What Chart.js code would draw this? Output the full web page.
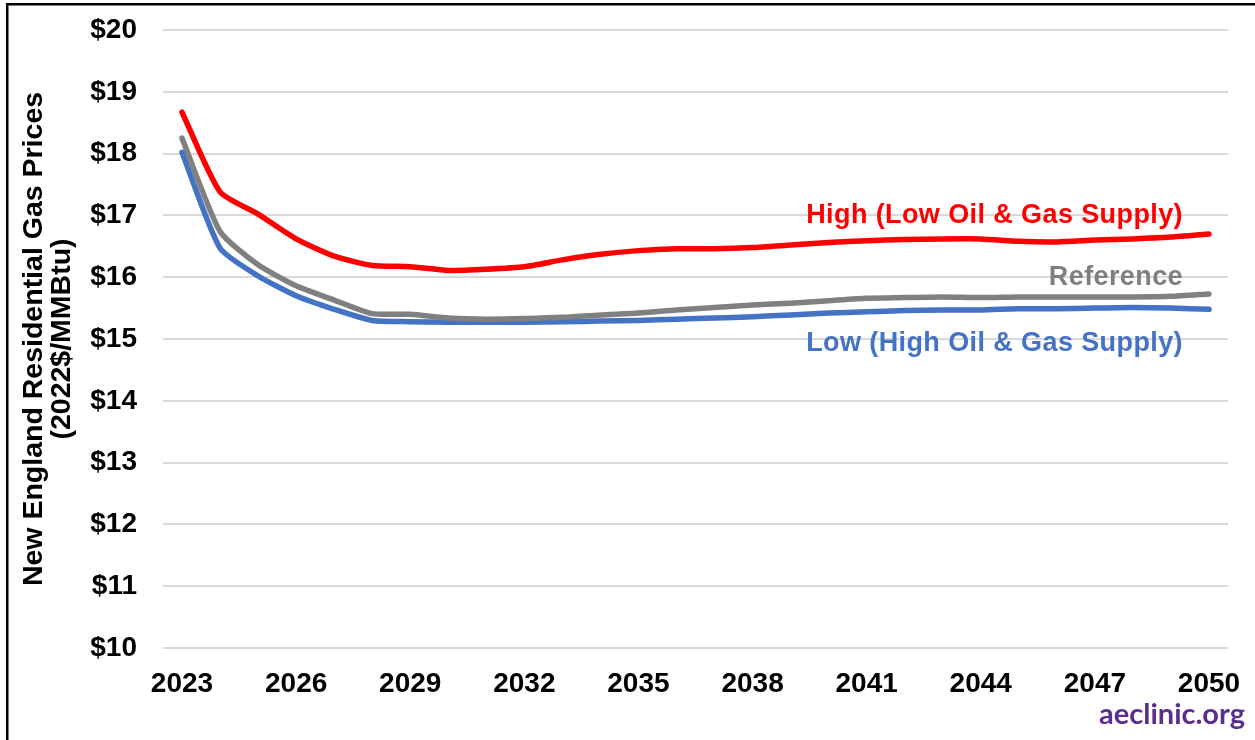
<!DOCTYPE html>
<html>
<head>
<meta charset="utf-8">
<title>New England Residential Gas Prices</title>
<script src="https://cdn.jsdelivr.net/npm/chart.js@4/dist/chart.umd.min.js"></script>
<style>
  html, body { margin: 0; padding: 0; background: #ffffff; }
  #wrap { width: 1255px; height: 740px; position: relative; }
</style>
</head>
<body>
<div id="wrap"><canvas id="chart" width="1255" height="740"></canvas></div>
<script>
// Years on the category axis
const years = [2023, 2024, 2025, 2026, 2027, 2028, 2029, 2030, 2031, 2032,
               2033, 2034, 2035, 2036, 2037, 2038, 2039, 2040, 2041, 2042,
               2043, 2044, 2045, 2046, 2047, 2048, 2049, 2050];

// Residential gas price, 2022$/MMBtu
const highPrices = [18.67, 17.38, 17.02, 16.62, 16.34, 16.19, 16.17, 16.11, 16.13, 16.17,
                    16.28, 16.37, 16.43, 16.46, 16.46, 16.48, 16.52, 16.56, 16.59, 16.61,
                    16.62, 16.62, 16.58, 16.57, 16.60, 16.62, 16.65, 16.70];
const referencePrices = [18.25, 16.74, 16.20, 15.86, 15.63, 15.41, 15.40, 15.34, 15.32, 15.33,
                         15.35, 15.39, 15.42, 15.47, 15.51, 15.55, 15.58, 15.62, 15.66, 15.67,
                         15.68, 15.67, 15.68, 15.68, 15.68, 15.68, 15.69, 15.73];
const lowPrices = [18.02, 16.47, 16.02, 15.70, 15.48, 15.30, 15.28, 15.27, 15.27, 15.27,
                   15.28, 15.29, 15.30, 15.32, 15.34, 15.36, 15.39, 15.42, 15.44, 15.46,
                   15.47, 15.47, 15.49, 15.49, 15.50, 15.51, 15.50, 15.48];

const yTicks = [10, 11, 12, 13, 14, 15, 16, 17, 18, 19, 20];
const yTitleLines = ['New England Residential Gas Prices', '(2022$/MMBtu)'];
const seriesNames = ['High (Low Oil & Gas Supply)', 'Reference', 'Low (High Oil & Gas Supply)'];
const seriesColors = ['#ff0000', '#808080', '#4472c4'];
const labelColors = ['#ff0000', '#7f7f7f', '#4472c4'];
const sourceText = 'aeclinic.org';

const FONT = '"Liberation Sans", Arial, sans-serif';

// Frame, vertical axis title, series labels and the source mark
const decorations = {
  id: 'decorations',
  beforeDraw(chart) {
    const ctx = chart.ctx;
    ctx.save();
    ctx.fillStyle = '#ffffff';
    ctx.fillRect(0, 0, chart.width, chart.height);
    ctx.restore();
  },
  afterDraw(chart) {
    const ctx = chart.ctx;
    const area = chart.chartArea;
    ctx.save();

    // frame
    ctx.strokeStyle = '#000000';
    ctx.lineWidth = 2.5;
    ctx.beginPath();
    ctx.moveTo(7.25, chart.height);
    ctx.lineTo(7.25, 4.25);
    ctx.lineTo(chart.width, 4.25);
    ctx.stroke();

    // vertical axis title
    const midY = (area.top + area.bottom) / 2;
    ctx.fillStyle = '#000000';
    ctx.font = 'bold 28.5px ' + FONT;
    ctx.textAlign = 'center';
    ctx.textBaseline = 'middle';
    ctx.translate(34, midY);
    ctx.rotate(-Math.PI / 2);
    ctx.fillText(yTitleLines[0], 0, 0);
    ctx.fillText(yTitleLines[1], 0, 28);
    ctx.setTransform(1, 0, 0, 1, 0, 0);

    // series labels, placed against the value axis
    const yScale = chart.scales.y;
    const labelRight = 1183;
    ctx.font = 'bold 27px ' + FONT;
    ctx.textAlign = 'right';
    ctx.textBaseline = 'alphabetic';
    ctx.letterSpacing = '0.4px';
    const labelValues = [16.87, 15.87, 14.80];
    labelValues.forEach((v, i) => {
      ctx.fillStyle = labelColors[i];
      ctx.fillText(seriesNames[i], labelRight, yScale.getPixelForValue(v));
    });
    ctx.letterSpacing = '0px';

    // source mark
    ctx.fillStyle = '#5c2d91';
    ctx.font = 'bold 29px Lato, "Open Sans", sans-serif';
    ctx.textAlign = 'right';
    ctx.fillText(sourceText, 1245, 724);

    ctx.restore();
  }
};

const ctx = document.getElementById('chart').getContext('2d');
new Chart(ctx, {
  type: 'line',
  data: {
    labels: years.map(String),
    datasets: [
      { label: seriesNames[0], data: highPrices, borderColor: seriesColors[0] },
      { label: seriesNames[1], data: referencePrices, borderColor: seriesColors[1] },
      { label: seriesNames[2], data: lowPrices, borderColor: seriesColors[2] }
    ].map(d => Object.assign(d, {
      borderWidth: 5.5,
      pointRadius: 0,
      pointHoverRadius: 0,
      fill: false,
      tension: 0.2,
      borderCapStyle: 'round',
      borderJoinStyle: 'round'
    }))
  },
  options: {
    responsive: false,
    devicePixelRatio: 1,
    animation: false,
    layout: { padding: { left: 0, right: 27, top: 30, bottom: 0 } },
    plugins: {
      legend: { display: false },
      tooltip: { enabled: false },
      title: { display: false }
    },
    scales: {
      x: {
        offset: true,
        grid: { display: false, drawTicks: false },
        border: { display: false },
        ticks: {
          autoSkip: false,
          maxRotation: 0,
          padding: 19,
          color: '#000000',
          font: { family: FONT, size: 28, weight: 'bold' },
          callback: (val, idx) => (idx % 3 === 0 ? years[idx] : '')
        },
        afterFit: (scale) => {
          scale.height = 92;
          scale.paddingLeft = 0;
          scale.paddingRight = 0;
        }
      },
      y: {
        min: yTicks[0],
        max: yTicks[yTicks.length - 1],
        afterBuildTicks: (scale) => { scale.ticks = yTicks.map(v => ({ value: v })); },
        grid: { color: '#d9d9d9', lineWidth: 2, drawTicks: false },
        border: { display: false },
        ticks: {
          padding: 26,
          color: '#000000',
          font: { family: FONT, size: 28, weight: 'bold' },
          callback: (v) => '$' + v
        },
        afterFit: (scale) => {
          scale.width = 163;
          scale.paddingTop = 0;
          scale.paddingBottom = 0;
        }
      }
    }
  },
  plugins: [decorations]
});
</script>
</body>
</html>
